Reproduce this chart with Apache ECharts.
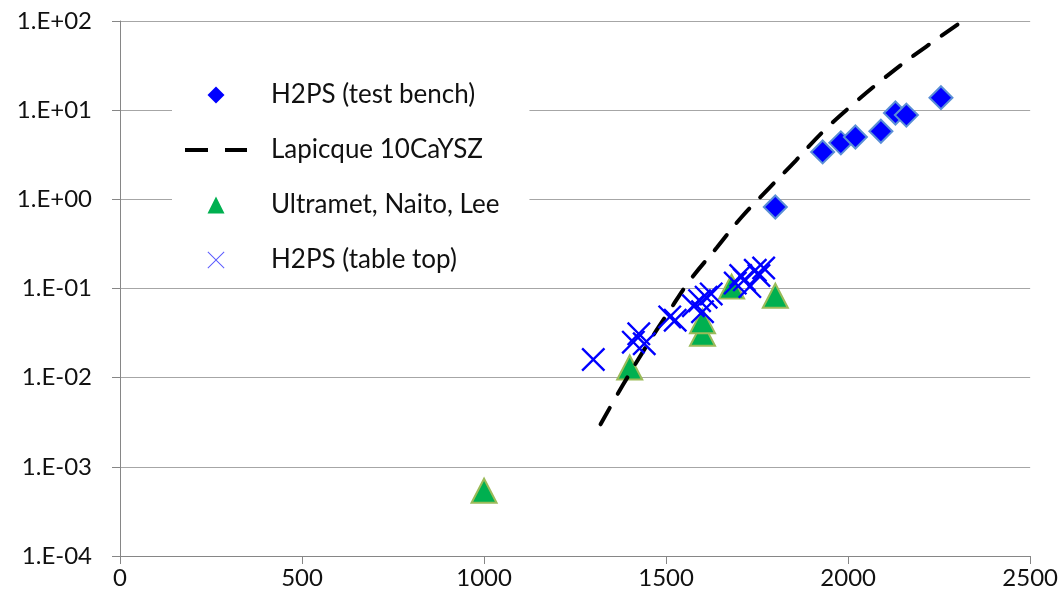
<!DOCTYPE html>
<html>
<head>
<meta charset="utf-8">
<script src="https://cdn.jsdelivr.net/npm/echarts@6/dist/echarts.min.js"></script>
<style>
  html, body { margin: 0; padding: 0; background: #fff; }
  #main { width: 1061px; height: 608px; }
</style>
</head>
<body>
<div id="main"></div>
<script>
// H2PS (test bench)
const benchX = [1800, 1930, 1980, 2020, 2090, 2130, 2160, 2255];
const benchY = [0.82, 3.4, 4.3, 5.0, 5.8, 9.3, 8.8, 13.8];
// Lapicque 10CaYSZ
const lapX = [1320, 1380, 1450, 1510, 1565, 1640, 1707, 1785, 1857, 1930, 2017, 2100, 2173, 2302];
const lapY = [0.0030, 0.0081, 0.024, 0.057, 0.123, 0.29, 0.63, 1.36, 2.74, 5.7, 12, 23, 39, 92];
// Ultramet, Naito, Lee
const ultX = [1000, 1400, 1600, 1600, 1680, 1800];
const ultY = [0.00054, 0.013, 0.031, 0.043, 0.105, 0.083];
// H2PS (table top)
const topX = [1300, 1410, 1425, 1440, 1510, 1525, 1575, 1592, 1600, 1610, 1624, 1690, 1705, 1715, 1730, 1745, 1755, 1768];
const topY = [0.016, 0.025, 0.031, 0.024, 0.048, 0.044, 0.064, 0.073, 0.055, 0.080, 0.087, 0.115, 0.14, 0.125, 0.105, 0.16, 0.14, 0.17];

const xTicks = { min: 0, max: 2500, interval: 500 };
const yRange = { min: 0.0001, max: 100 };

const zip = (xs, ys) => xs.map((x, i) => [x, ys[i]]);

const font = 'Lato';
const crossPath = 'path://M0,7L7,0L50,43L93,0L100,7L57,50L100,93L93,100L50,57L7,100L0,93L43,50Z';
const thinCross = 'path://M0,4L4,0L50,46L96,0L100,4L54,50L100,96L96,100L50,54L4,100L0,96L46,50Z';
const diamondPath = 'path://M50,0L100,50L50,100L0,50Z';
const trianglePath = 'path://M50,0L100,100L0,100Z';
const dashPath = 'path://M0,0L23,0L23,4L0,4Z M40,0L62,0L62,4L40,4Z';

const chart = echarts.init(document.getElementById('main'));

const option = {
  animation: false,
  backgroundColor: '#fff',
  grid: { left: 120, right: 30, top: 21, bottom: 52 },
  legend: {
    orient: 'vertical',
    left: 172,
    top: 72,
    padding: [10, 30, 10, 13],
    backgroundColor: '#fff',
    itemWidth: 62,
    itemHeight: 17,
    itemGap: 29,
    symbolKeepAspect: true,
    textStyle: { fontFamily: font, fontSize: 26, color: '#111', lineHeight: 25, padding: [0, 0, 0, 19] },
    data: [
      { name: 'H2PS (test bench)', icon: diamondPath, itemStyle: { color: '#0000ff', borderWidth: 0, opacity: 1 } },
      { name: 'Lapicque 10CaYSZ', icon: dashPath, itemStyle: { color: '#000', borderWidth: 0, opacity: 1 } },
      { name: 'Ultramet, Naito, Lee', icon: trianglePath, itemStyle: { color: '#00b050', borderWidth: 0, opacity: 1 } },
      { name: 'H2PS (table top)', icon: thinCross, itemStyle: { color: '#5a5aff', borderWidth: 0, opacity: 1 } }
    ]
  },
  xAxis: {
    type: 'value',
    min: xTicks.min,
    max: xTicks.max,
    interval: xTicks.interval,
    splitLine: { show: false },
    axisLine: { onZero: false, lineStyle: { color: '#868686', width: 1 } },
    axisTick: { show: true, length: 8, lineStyle: { color: '#868686' } },
    axisLabel: {
      fontFamily: font, fontSize: 24, color: '#111', margin: 10,
      formatter: function (v) { return String(v); }
    }
  },
  yAxis: {
    type: 'log',
    logBase: 10,
    min: yRange.min,
    max: yRange.max,
    splitNumber: 6,
    axisLine: { show: true, lineStyle: { color: '#868686', width: 1 } },
    axisTick: { show: true, length: 8, lineStyle: { color: '#868686' } },
    splitLine: { show: true, lineStyle: { color: '#a6a6a6', width: 1.2 } },
    minorTick: { show: false },
    axisLabel: {
      fontFamily: font, fontSize: 24, color: '#111', margin: 28,
      formatter: function (v) {
        const e = Math.round(Math.log10(v));
        return '1.E' + (e < 0 ? '-' : '+') + String(Math.abs(e)).padStart(2, '0');
      }
    }
  },
  series: [
    {
      name: 'H2PS (test bench)',
      type: 'scatter',
      symbol: 'diamond',
      symbolSize: 23,
      itemStyle: { color: '#0000ff', borderColor: '#5b8fd6', borderWidth: 2, opacity: 1 },
      data: zip(benchX, benchY),
      z: 3
    },
    {
      name: 'Lapicque 10CaYSZ',
      type: 'line',
      smooth: 0.4,
      symbol: 'none',
      showSymbol: false,
      lineStyle: { color: '#000', width: 4, type: [19, 15.8], cap: 'round' },
      itemStyle: { color: '#000' },
      data: zip(lapX, lapY),
      z: 4
    },
    {
      name: 'Ultramet, Naito, Lee',
      type: 'scatter',
      symbol: 'triangle',
      symbolSize: [25, 24],
      itemStyle: { color: '#00b050', borderColor: '#9bbb59', borderWidth: 2, opacity: 1 },
      data: zip(ultX, ultY),
      z: 2
    },
    {
      name: 'H2PS (table top)',
      type: 'scatter',
      symbol: crossPath,
      symbolSize: 24,
      itemStyle: { color: '#0000ff', opacity: 1 },
      data: zip(topX, topY),
      z: 5
    }
  ]
};

chart.setOption(option);
</script>
</body>
</html>
